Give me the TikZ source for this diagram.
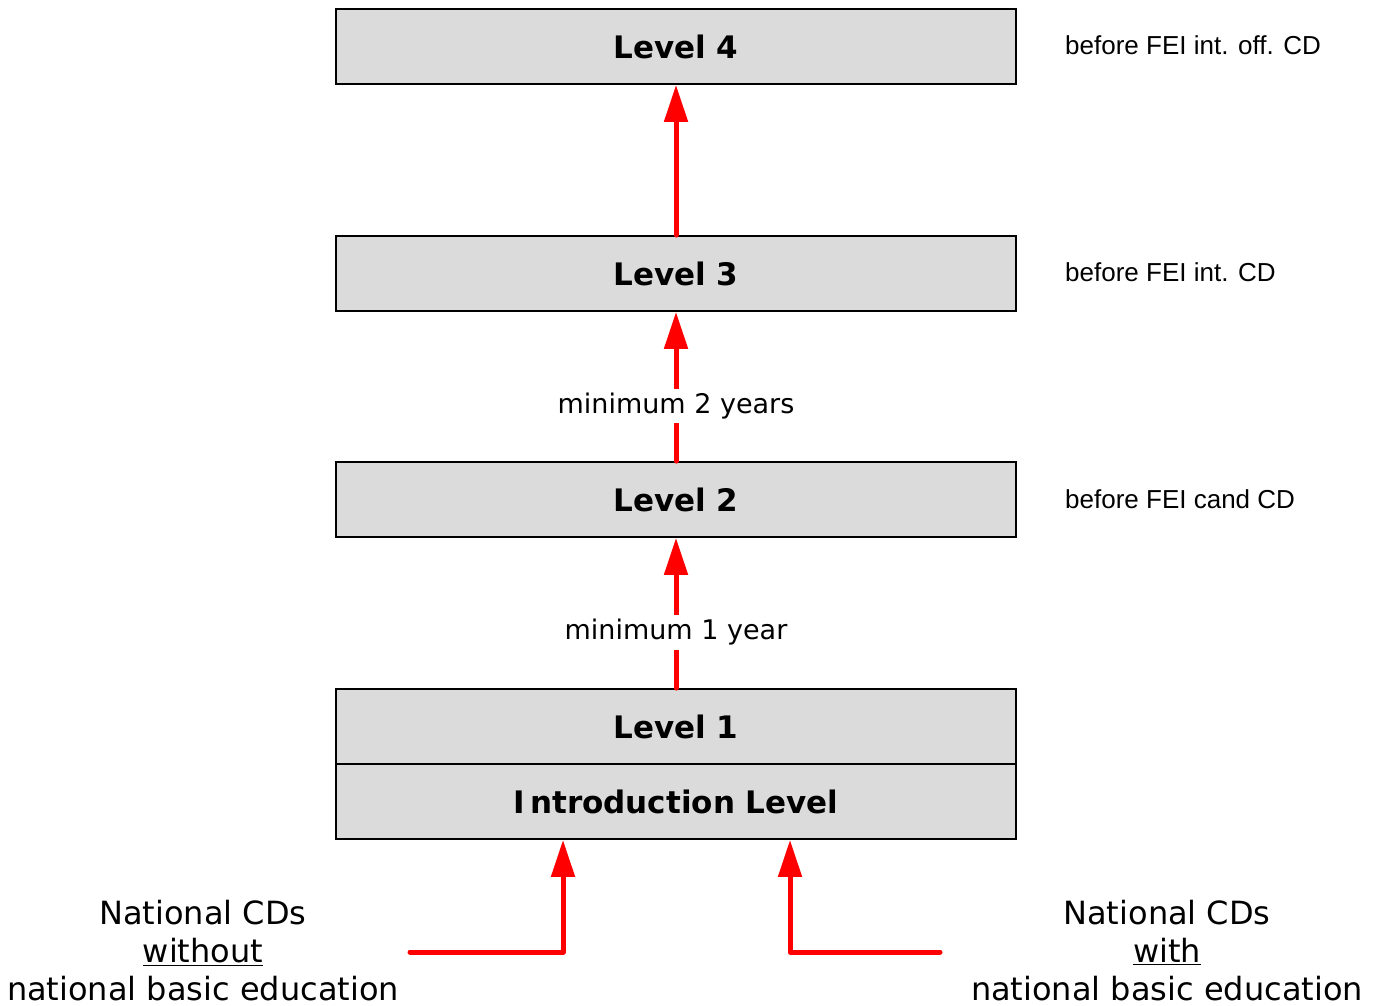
\documentclass[tikz,border=0pt]{standalone}
\usepackage{fontspec}
\setmainfont{DejaVu Sans}
\newfontfamily\arialf{Liberation Sans}
\usetikzlibrary{arrows.meta}
\begin{document}
\begin{tikzpicture}[x=1pt,y=-1pt,
  levelbox/.style={draw=black, line width=1.8pt, fill=gray!28, minimum width=680pt, minimum height=75pt, inner sep=0pt, font=\fontsize{31}{37}\selectfont\bfseries},
  redarrow/.style={draw=red, line width=5pt, line cap=round, line join=round, -{Triangle[width=23pt,length=37pt]}},
  arrowlabel/.style={fill=white, inner sep=4pt, font=\fontsize{27}{32}\selectfont},
  sidenote/.style={anchor=west, inner sep=0pt, font=\arialf\fontsize{26}{31}\selectfont},
  bottomtext/.style={align=center, inner sep=0pt, font=\fontsize{32}{38}\selectfont}]
\useasboundingbox (0,0) rectangle (1380,1005);
\node[levelbox] (l4) at (676,46.5) {Level 4};
\node[levelbox] (l3) at (676,273.5) {Level 3};
\node[levelbox] (l2) at (676,499.5) {Level 2};
\node[levelbox] (l1) at (676,726.5) {Level 1};
\node[levelbox] (intro) at (676,801.5) {I\,ntroduction Level};
\node[sidenote] (n4) at (1065,45) {before FEI int. off. CD};
\node[sidenote] (n3) at (1065,272) {before FEI int. CD};
\node[sidenote] (n2) at (1065,499) {before FEI cand CD};
\draw[redarrow] (l3.north) -- (l4.south);
\draw[redarrow] (l2.north) -- node[arrowlabel, pos=0.37] (lab2) {minimum 2 years} (l3.south);
\draw[redarrow] (l1.north) -- node[arrowlabel, pos=0.37] (lab1) {minimum 1 year} (l2.south);
\coordinate (inL) at (410,952);
\coordinate (inR) at (940,952);
\draw[redarrow] (inL) -| ([xshift=-113pt]intro.south);
\draw[redarrow] (inR) -| ([xshift=114pt]intro.south);
\node[bottomtext] (tL) at (203,951) {National CDs\\\underline{without}\\national basic education};
\node[bottomtext] (tR) at (1167,951) {National CDs\\\underline{with}\\national basic education};
\end{tikzpicture}
\end{document}
